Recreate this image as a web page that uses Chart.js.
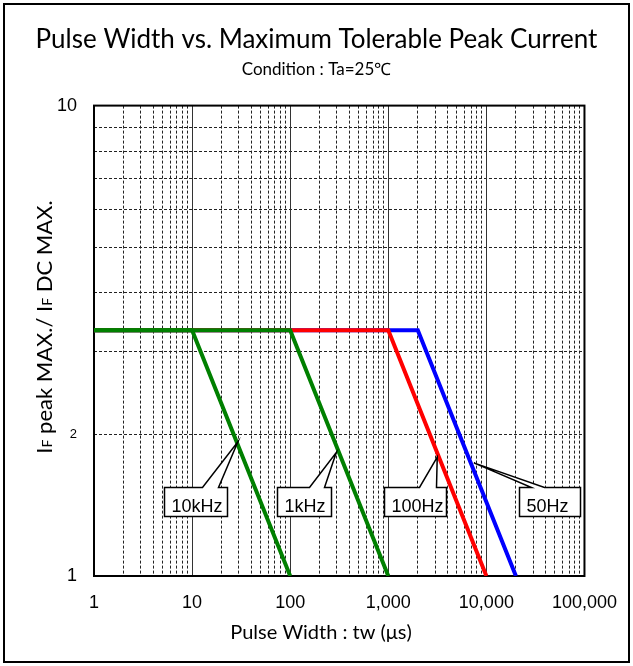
<!DOCTYPE html>
<html>
<head>
<meta charset="utf-8">
<style>
  html, body { margin: 0; padding: 0; background: #fff; }
  #wrap { position: relative; width: 633px; height: 666px; }
</style>
<script src="https://cdn.jsdelivr.net/npm/chart.js@4.4.1/dist/chart.umd.min.js"></script>
</head>
<body>
<div id="wrap"><canvas id="chart" width="633" height="666"></canvas></div>
<script>
// pulse width (us) vs. IF peak / IF DC ratio, one curve per repetition frequency
const width10k = [1, 10, 100];
const ratio10k = [3.33, 3.33, 1];
const width1k = [1, 100, 1000];
const ratio1k = [3.33, 3.33, 1];
const width100 = [1, 1000, 10000];
const ratio100 = [3.33, 3.33, 1];
const width50 = [1, 2000, 20000];
const ratio50 = [3.33, 3.33, 1];

const xMajorTicks = [1, 10, 100, 1000, 10000, 100000];
const xTickLabels = ['1', '10', '100', '1,000', '10,000', '100,000'];
const yGridTicks = [1, 2, 3, 4, 5, 6, 7, 8, 9, 10];
const yLabelTicks = [1, 2, 10];
const yTickLabels = ['1', '2', '10'];

// callout labels and the point on the curve they point at
const calloutLabels = ['10kHz', '1kHz', '100Hz', '50Hz'];
const calloutWidth = [29.3, 295, 3155, 7450];
const calloutRatio = [1.93, 1.83, 1.79, 1.74];

const TITLE_FONT = 'Lato';
const TICK_FONT = 'Liberation Sans';

// minor grid positions 1..9 per decade
const xGridTicks = [];
xMajorTicks.forEach((m, i) => {
  if (i === xMajorTicks.length - 1) { xGridTicks.push(m); return; }
  for (let k = 1; k <= 9; k++) xGridTicks.push(m * k);
});

function pts(xs, ys) {
  return xs.map((x, i) => ({ x: x, y: ys[i] }));
}

function lineSet(label, xs, ys, color) {
  return {
    label: label,
    data: pts(xs, ys),
    showLine: true,
    borderColor: color,
    backgroundColor: color,
    borderWidth: 4,
    pointRadius: 0,
    tension: 0,
    borderCapStyle: 'butt',
    borderJoinStyle: 'miter'
  };
}

// callout box geometry (pixels relative to the tip)
const calloutStyle = [
  { dx: -74, dy: 45, w: 63, base: [38, 54] },
  { dx: -59, dy: 34, w: 54, base: [32, 47] },
  { dx: -53, dy: 30, w: 62, base: [35, 52] },
  { dx: 45, dy: 24, w: 61, base: [12, 25] }
];

const framePlugin = {
  id: 'frame',
  beforeDraw(chart) {
    const ctx = chart.ctx;
    ctx.save();
    ctx.fillStyle = '#fff';
    ctx.fillRect(0, 0, chart.width, chart.height);
    ctx.restore();
  },
  beforeDatasetsDraw(chart) {
    const { ctx, chartArea: a, scales } = chart;
    ctx.save();
    // solid decade lines
    ctx.strokeStyle = '#333';
    ctx.lineWidth = 1;
    xMajorTicks.forEach(v => {
      const px = Math.round(scales.x.getPixelForValue(v)) + 0.5;
      ctx.beginPath();
      ctx.moveTo(px, a.top);
      ctx.lineTo(px, a.bottom);
      ctx.stroke();
    });
    ctx.strokeStyle = '#000';
    ctx.lineWidth = 2;
    ctx.strokeRect(a.left, a.top, a.right - a.left, a.bottom - a.top);
    ctx.restore();
  },
  afterDatasetsDraw(chart) {
    const { ctx, scales } = chart;
    ctx.save();
    ctx.font = '18px "' + TICK_FONT + '"';
    calloutLabels.forEach((t, i) => {
      const s = calloutStyle[i];
      const tx = scales.x.getPixelForValue(calloutWidth[i]);
      const ty = scales.y.getPixelForValue(calloutRatio[i]);
      const l = Math.round(tx + s.dx) + 0.5;
      const top = Math.round(ty + s.dy) + 0.5;
      const h = 29;
      ctx.beginPath();
      ctx.moveTo(l, top);
      ctx.lineTo(l + s.base[0], top);
      ctx.lineTo(tx, ty);
      ctx.lineTo(l + s.base[1], top);
      ctx.lineTo(l + s.w, top);
      ctx.lineTo(l + s.w, top + h);
      ctx.lineTo(l, top + h);
      ctx.closePath();
      ctx.fillStyle = '#fff';
      ctx.fill();
      ctx.strokeStyle = '#000';
      ctx.lineWidth = 1.5;
      ctx.stroke();
      ctx.fillStyle = '#000';
      ctx.textAlign = 'left';
      ctx.textBaseline = 'alphabetic';
      ctx.fillText(t, l + 7, top + 24);
    });
    ctx.restore();
  },
  afterDraw(chart) {
    const ctx = chart.ctx;
    ctx.save();
    // outer frame
    ctx.strokeStyle = '#000';
    ctx.lineWidth = 2;
    ctx.strokeRect(4, 4, chart.width - 8, chart.height - 8);
    // x axis title
    ctx.fillStyle = '#000';
    ctx.font = '20px ' + TITLE_FONT;
    ctx.textAlign = 'center';
    ctx.textBaseline = 'middle';
    ctx.fillText('Pulse Width : tw (μs)', 321, 633);
    // y axis title with small F
    const parts = [['I', 22], ['F', 14], [' peak MAX./ I', 22], ['F', 14], [' DC MAX.', 22]];
    let total = 0;
    parts.forEach(p => {
      ctx.font = p[1] + 'px ' + TITLE_FONT;
      total += ctx.measureText(p[0]).width;
    });
    ctx.translate(44, 327);
    ctx.rotate(-Math.PI / 2);
    ctx.textBaseline = 'alphabetic';
    ctx.textAlign = 'left';
    let x = -total / 2;
    parts.forEach(p => {
      ctx.font = p[1] + 'px ' + TITLE_FONT;
      ctx.fillText(p[0], x, 8);
      x += ctx.measureText(p[0]).width;
    });
    ctx.restore();
  }
};

new Chart(document.getElementById('chart'), {
  type: 'scatter',
  data: {
    datasets: [
      lineSet('10kHz', width10k, ratio10k, '#008000'),
      lineSet('1kHz', width1k, ratio1k, '#008000'),
      lineSet('100Hz', width100, ratio100, '#ff0000'),
      lineSet('50Hz', width50, ratio50, '#0000ff')
    ]
  },
  options: {
    responsive: false,
    animation: false,
    layout: { padding: 0 },
    plugins: {
      legend: { display: false },
      tooltip: { enabled: false },
      title: {
        display: true,
        text: 'Pulse Width vs. Maximum Tolerable Peak Current',
        color: '#000',
        font: { family: TITLE_FONT, size: 26, weight: 'normal' },
        padding: { top: 24, bottom: 4 }
      },
      subtitle: {
        display: true,
        text: 'Condition : Ta=25℃',
        color: '#000',
        font: { family: TITLE_FONT, size: 17, weight: 'normal' },
        padding: { top: 0, bottom: 26 }
      }
    },
    scales: {
      x: {
        type: 'logarithmic',
        min: 1,
        max: 100000,
        afterBuildTicks: scale => { scale.ticks = xGridTicks.map(v => ({ value: v })); },
        afterFit: scale => { scale.height = 90; },
        ticks: {
          autoSkip: false,
          maxRotation: 0,
          minRotation: 0,
          padding: 16,
          color: '#000',
          font: { family: TICK_FONT, size: 18 },
          callback: v => {
            const i = xMajorTicks.indexOf(v);
            return i >= 0 ? xTickLabels[i] : '';
          }
        },
        grid: {
          drawTicks: false,
          lineWidth: 1,
          color: c => (c.tick && xMajorTicks.indexOf(c.tick.value) >= 0) ? 'rgba(0,0,0,0)' : '#222'
        },
        border: { display: false, dash: [3, 2] }
      },
      y: {
        type: 'logarithmic',
        min: 1,
        max: 10,
        afterBuildTicks: scale => { scale.ticks = yGridTicks.map(v => ({ value: v })); },
        afterFit: scale => { scale.width = 94; },
        ticks: {
          autoSkip: false,
          padding: 17,
          color: '#000',
          font: c => ({ family: TICK_FONT, size: (c.tick && c.tick.value === 2) ? 13 : 18 }),
          callback: v => {
            const i = yLabelTicks.indexOf(v);
            return i >= 0 ? yTickLabels[i] : '';
          }
        },
        grid: {
          drawTicks: false,
          lineWidth: 1,
          color: c => (c.tick && (c.tick.value === 1 || c.tick.value === 10)) ? 'rgba(0,0,0,0)' : '#222'
        },
        border: { display: false, dash: [3, 2] }
      },
      // empty right axis that only reserves the margin right of the plot
      spacer: {
        position: 'right',
        display: true,
        afterFit: scale => { scale.width = 47; },
        ticks: { display: false },
        grid: { display: false },
        border: { display: false }
      }
    }
  },
  plugins: [framePlugin]
});
</script>
</body>
</html>
